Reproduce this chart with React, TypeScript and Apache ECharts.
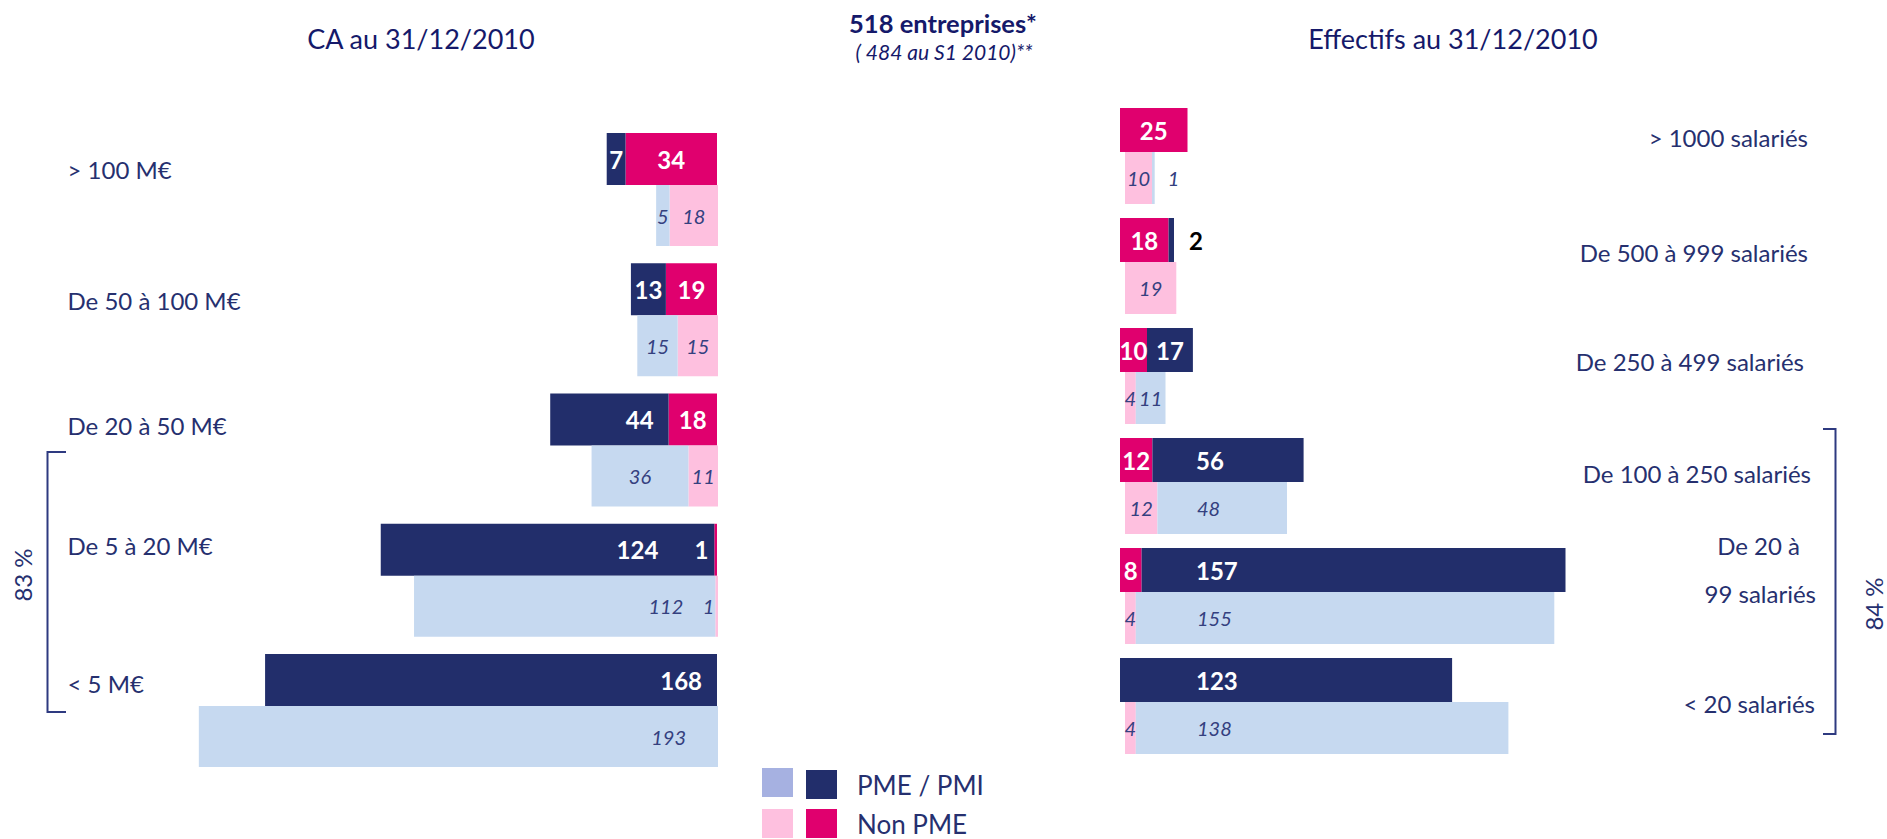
import React, { useEffect, useRef } from 'react';
import * as echarts from 'echarts';

// ---------------- data ----------------
const caCategories = ['> 100 M€', 'De 50 à 100 M€', 'De 20 à 50 M€', 'De 5 à 20 M€', '< 5 M€'];
const caPme2010 = [7, 13, 44, 124, 168];
const caNonPme2010 = [34, 19, 18, 1, 0];
const caPmeS1 = [5, 15, 36, 112, 193];
const caNonPmeS1 = [18, 15, 11, 1, 0];

const effCategories = [
  '> 1000 salariés',
  'De 500 à 999 salariés',
  'De 250 à 499 salariés',
  'De 100 à 250 salariés',
  'De 20 à 99 salariés',
  '< 20 salariés',
];
const effPme2010 = [0, 2, 17, 56, 157, 123];
const effNonPme2010 = [25, 18, 10, 12, 8, 0];
const effPmeS1 = [1, 0, 11, 48, 155, 138];
const effNonPmeS1 = [10, 19, 4, 12, 4, 4];

const titleCA = 'CA au 31/12/2010';
const titleEff = 'Effectifs au 31/12/2010';
const titleMain = '518 entreprises*';
const titleSub = '( 484 au S1 2010)**';
const pctCA = '83 %';
const pctEff = '84 %';

const NAME_PME = 'PME / PMI';
const NAME_NON = 'Non PME';
const NAME_PME_S1 = 'PME / PMI S1 2010';
const NAME_NON_S1 = 'Non PME S1 2010';

// ---------------- style / layout ----------------
const FONT = 'Lato, "Open Sans", sans-serif';
const NAVY = '#222E6B';
const MAGENTA = '#E0006E';
const LIGHT_BLUE = '#C6D9F0';
const LIGHT_PINK = '#FEC0DF';
const LEGEND_LAV = '#A6B1E1';
const TEXT = '#26306F';
const TITLE = '#15196A';
const LIGHT_TXT = '#34407F';

const AX_MAX = 200;
const L_W = 538;
const R_W = 540;
const LPX = L_W / AX_MAX;
const RPX = R_W / AX_MAX;

// vertical / horizontal nudges of category labels (px)
const caLabelDy = [10, 11, 6, -4, 3];
const effLabelDy = [7, 12, 11, 13, -1, 23];
const effLabelDx = [8, 8, 12, 5, 0, 1];

const darkLabel = { color: '#fff', fontWeight: 'bold', fontSize: 24, fontFamily: FONT };
const lightLabel = { color: LIGHT_TXT, fontStyle: 'italic', fontSize: 20, fontFamily: FONT };
const fmt = (p: any) => (p.value ? String(p.value) : '');

function padFor(dy: number, dx = 0) {
  return dy >= 0 ? [2 * dy, dx, 0, 0] : [0, dx, -2 * dy, 0];
}

const catFont = { fontSize: 24, fontFamily: FONT, color: TEXT };
const richCat = {
  a: { ...catFont, lineHeight: 48, padding: [0, 16, 0, 0] },
  b: { ...catFont, lineHeight: 48 },
};

function buildOption() {
  const gridBase = { containLabel: false, outerBoundsMode: 'none' };
  const grids = [
    { ...gridBase, left: 179, top: 93.9, width: L_W, height: 651.25 },
    { ...gridBase, left: 180, top: 150.4, width: L_W, height: 651.25 },
    { ...gridBase, left: 1120, top: 75, width: R_W, height: 660 },
    { ...gridBase, left: 1125, top: 123, width: R_W, height: 660 },
  ];
  const xAxes = grids.map((_, i) => ({
    type: 'value',
    gridIndex: i,
    min: 0,
    max: AX_MAX,
    inverse: i < 2,
    show: false,
  }));
  const yAxes = [0, 1, 2, 3].map((i) => {
    const left = i < 2;
    const cats = left ? caCategories : effCategories;
    const showLabels = i === 0 || i === 2;
    return {
      type: 'category',
      gridIndex: i,
      inverse: true,
      position: left ? 'left' : 'right',
      data: cats.map((c, k) =>
        showLabels
          ? {
              value: c,
              textStyle: {
                ...catFont,
                align: left ? 'left' : 'right',
                verticalAlign: 'middle',
                rich: richCat,
                padding: left ? padFor(caLabelDy[k]) : padFor(effLabelDy[k], effLabelDx[k]),
              },
            }
          : c
      ),
      axisLine: { show: false, onZero: false },
      axisTick: { show: false },
      splitLine: { show: false },
      axisLabel: {
        show: showLabels,
        align: left ? 'left' : 'right',
        margin: left ? 111.5 : 156,
        ...catFont,
        hideOverlap: false,
        formatter: (v: string) =>
          v === 'De 20 à 99 salariés' ? '{a|De 20 à}\n{b|99 salariés}' : v,
        rich: richCat,
      },
    };
  });

  const inside = { position: 'inside' };

  const leftDarkPme = caPme2010.map((v, i) => {
    const np = caNonPme2010[i];
    const w = v * LPX;
    const label =
      w > 100
        ? { position: 'insideRight', distance: 15 + (np > 0 && np < 3 ? 41 : 0) }
        : inside;
    return { value: v, label };
  });
  const leftDarkNon = caNonPme2010.map((v) => ({
    value: v,
    label: v > 0 && v < 3 ? { position: 'left', distance: 6 } : inside,
  }));
  const leftLightPme = caPmeS1.map((v) => ({
    value: v,
    label: v * LPX > 150 ? { position: 'insideRight', distance: 32 } : inside,
  }));
  const leftLightNon = caNonPmeS1.map((v) => ({
    value: v,
    label: v > 0 && v < 3 ? { position: 'left', distance: 1 } : inside,
  }));

  const rightDarkNon = effNonPme2010.map((v) => ({ value: v, label: inside }));
  const rightDarkPme = effPme2010.map((v, i) => {
    const np = effNonPme2010[i];
    let label: any = inside;
    if (v > 0 && v < 3) label = { position: 'right', distance: 15, color: '#000' };
    else if (v * RPX > 100) label = { position: 'insideLeft', distance: 76 - np * RPX };
    return { value: v, label };
  });
  const rightLightNon = effNonPmeS1.map((v) => ({ value: v, label: inside }));
  const rightLightPme = effPmeS1.map((v, i) => {
    const np = effNonPmeS1[i];
    let label: any = inside;
    if (v > 0 && v < 3) label = { position: 'right', distance: 13 };
    else if (v * RPX > 100) label = { position: 'insideLeft', distance: 72 - np * RPX };
    return { value: v, label };
  });

  const bar = (name: string, idx: number, stack: string, width: number, color: string, lab: any, data: any[]) => ({
    type: 'bar',
    name,
    xAxisIndex: idx,
    yAxisIndex: idx,
    stack,
    barWidth: width,
    itemStyle: { color },
    label: { show: true, formatter: fmt, ...lab },
    labelLayout: { hideOverlap: false },
    emphasis: { disabled: true },
    data,
  });

  const series = [
    bar(NAME_NON, 0, 'ld', 52, MAGENTA, darkLabel, leftDarkNon),
    bar(NAME_PME, 0, 'ld', 52, NAVY, darkLabel, leftDarkPme),
    bar(NAME_NON_S1, 1, 'll', 61, LIGHT_PINK, lightLabel, leftLightNon),
    bar(NAME_PME_S1, 1, 'll', 61, LIGHT_BLUE, lightLabel, leftLightPme),
    bar(NAME_NON, 2, 'rd', 44, MAGENTA, darkLabel, rightDarkNon),
    bar(NAME_PME, 2, 'rd', 44, NAVY, darkLabel, rightDarkPme),
    bar(NAME_NON_S1, 3, 'rl', 52, LIGHT_PINK, lightLabel, rightLightNon),
    bar(NAME_PME_S1, 3, 'rl', 52, LIGHT_BLUE, lightLabel, rightLightPme),
  ];

  const txt = (text: string, x: number, y: number, extra: any = {}, rotation = 0) => ({
    type: 'text',
    x,
    y,
    rotation,
    silent: true,
    style: {
      text,
      fontFamily: FONT,
      fontSize: 27,
      fill: TITLE,
      align: 'center',
      verticalAlign: 'middle',
      ...extra,
    },
  });

  const graphic = [
    txt(titleCA, 421, 38),
    txt(titleEff, 1453, 38),
    txt(titleMain, 943, 23, { fontWeight: 'bold', fontSize: 25.5 }),
    txt(titleSub, 944, 51, { fontStyle: 'italic', fontSize: 21 }),
    {
      type: 'polyline',
      silent: true,
      shape: { points: [[66, 452], [47.5, 452], [47.5, 712], [66, 712]] },
      style: { stroke: '#2E3A80', lineWidth: 2, fill: 'none' },
    },
    {
      type: 'polyline',
      silent: true,
      shape: { points: [[1823, 429], [1835.5, 429], [1835.5, 734], [1823, 734]] },
      style: { stroke: '#2E3A80', lineWidth: 2, fill: 'none' },
    },
    txt(pctCA, 22, 575, { fontSize: 24, fill: TEXT }, Math.PI / 2),
    txt(pctEff, 1873, 604, { fontSize: 24, fill: TEXT }, Math.PI / 2),
  ];

  const legend = [
    {
      left: 762,
      top: 768,
      padding: 0,
      orient: 'vertical',
      icon: 'rect',
      itemWidth: 31,
      itemHeight: 29,
      itemGap: 12,
      selectedMode: false,
      formatter: () => '',
      data: [
        { name: NAME_PME_S1, itemStyle: { color: LEGEND_LAV } },
        { name: NAME_NON_S1, itemStyle: { color: LIGHT_PINK } },
      ],
    },
    {
      left: 806,
      top: 770,
      padding: 0,
      orient: 'vertical',
      icon: 'rect',
      itemWidth: 31,
      itemHeight: 29,
      itemGap: 10,
      selectedMode: false,
      textStyle: { fontSize: 26, fontFamily: FONT, color: TEXT, padding: [0, 0, 14, 15] },
      data: [NAME_PME, NAME_NON],
    },
  ];

  return {
    animation: false,
    backgroundColor: '#fff',
    grid: grids,
    xAxis: xAxes,
    yAxis: yAxes,
    series,
    graphic,
    legend,
  };
}

export default function App() {
  const ref = useRef<HTMLDivElement>(null);
  useEffect(() => {
    const chart = echarts.init(ref.current!, null, { renderer: 'svg' });
    chart.setOption(buildOption() as any);
    return () => chart.dispose();
  }, []);
  return (
    <div
      ref={ref}
      style={{ position: 'fixed', left: 0, top: 0, width: 1887, height: 839, background: '#fff' }}
    />
  );
}
